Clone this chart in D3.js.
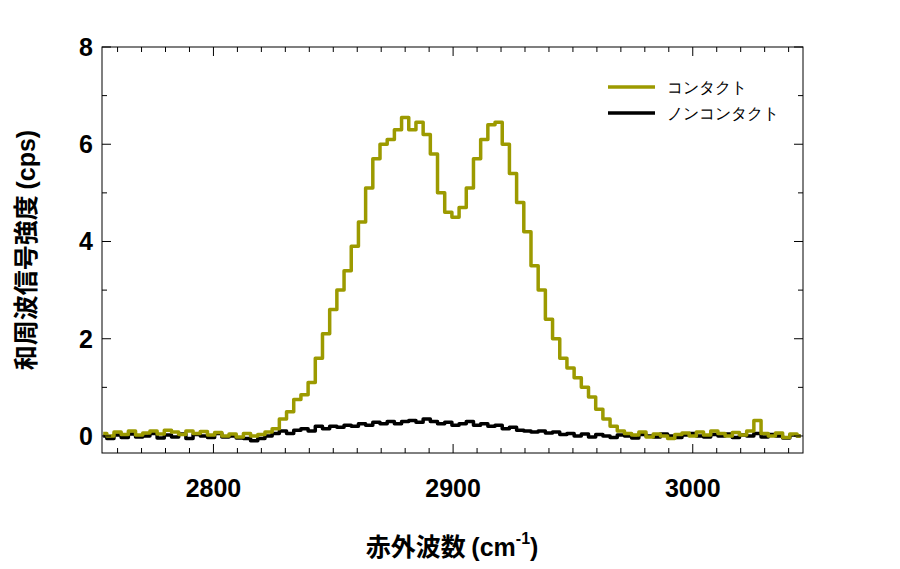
<!DOCTYPE html>
<html>
<head>
<meta charset="utf-8">
<script src="https://cdn.jsdelivr.net/npm/d3@7"></script>
<style>
  body { margin: 0; background: #fff; }
  text { font-family: "Liberation Sans", Arial, sans-serif; }
</style>
</head>
<body>
<svg id="chart" width="900" height="569"></svg>
<script>
// Wavenumber grid: 2754 .. 3045 in 3 cm-1 steps
const xStart = 2754
const xStep = 3

const contact = [
  0.05, 0.0, 0.08, 0.03, 0.1, 0.02, 0.06, 0.1, 0.04, 0.12,
  0.08, 0.03, 0.1, 0.05, 0.09, 0.02, 0.07, 0.0, 0.04, -0.02,
  0.05, 0.0, 0.03, 0.08, 0.15, 0.35, 0.5, 0.75, 0.85, 1.1,
  1.6, 2.1, 2.6, 3.0, 3.4, 3.9, 4.4, 5.1, 5.7, 6.0,
  6.1, 6.3, 6.55, 6.3, 6.45, 6.2, 5.8, 5.0, 4.6, 4.5,
  4.7, 5.1, 5.7, 6.1, 6.4, 6.45, 6.0, 5.4, 4.8, 4.2,
  3.5, 3.0, 2.4, 2.0, 1.6, 1.4, 1.2, 1.0, 0.8, 0.55,
  0.35, 0.2, 0.1, 0.05, 0.02, 0.08, -0.02, 0.04, 0.0, -0.05,
  0.03, 0.06, 0.0, 0.08, 0.02, 0.1, 0.05, 0.0, 0.07, 0.02,
  0.1, 0.32, 0.05, 0.0, 0.06, -0.03, 0.04, 0.0
]

const nonContact = [
  0.0, -0.05, 0.02, -0.03, 0.04, -0.02, 0.0, 0.05, -0.04, 0.02,
  -0.02, 0.04, -0.05, 0.03, 0.0, -0.03, 0.05, -0.02, 0.0, -0.04,
  -0.05, -0.1, -0.05, 0.0, 0.05, 0.1, 0.05, 0.12, 0.15, 0.1,
  0.2, 0.15, 0.2, 0.18, 0.22, 0.2, 0.25, 0.22, 0.28, 0.25,
  0.3, 0.25, 0.3, 0.32, 0.28, 0.35, 0.3, 0.25, 0.28, 0.22,
  0.25, 0.3, 0.22, 0.25, 0.2, 0.22, 0.15, 0.18, 0.12, 0.1,
  0.08, 0.1, 0.06, 0.08, 0.03, 0.05, 0.0, 0.04, -0.02, 0.03,
  0.0, -0.03, 0.02, 0.0, -0.04, 0.03, 0.0, -0.02, 0.04, 0.0,
  -0.03, 0.02, 0.05, 0.0, -0.02, 0.03, 0.0, 0.04, -0.03, 0.02,
  0.0, 0.05, -0.02, 0.03, 0.0, -0.04, 0.02, 0.0
]

const series = [
  {name: "コンタクト", values: contact, color: "#9c9a00"},
  {name: "ノンコンタクト", values: nonContact, color: "#000000"}
]

const xTicks = [2800, 2900, 3000]
const yTicks = [0, 2, 4, 6, 8]

const svg = d3.select("#chart")
const m = {left: 102, right: 803, top: 47, bottom: 453}

const x = d3.scaleLinear().domain([2753.5, 3046]).range([m.left, m.right])
const y = d3.scaleLinear().domain([-0.35, 8]).range([m.bottom, m.top])

const toPoints = vals => vals.map((v, i) => [xStart + i * xStep, v])

// Lines
const line = d3.line().x(d => x(d[0])).y(d => y(d[1])).curve(d3.curveStep)
series.slice().reverse().forEach(s => {
    svg.append("path")
       .attr("d", line(toPoints(s.values)))
       .attr("fill", "none")
       .attr("stroke", s.color)
       .attr("stroke-width", 3.5)
       .attr("stroke-linejoin", "round")
})

// Frame
svg.append("rect")
   .attr("x", m.left).attr("y", m.top)
   .attr("width", m.right - m.left).attr("height", m.bottom - m.top)
   .attr("fill", "none").attr("stroke", "#000").attr("stroke-width", 1)

// Axes with inward ticks, mirrored
const xMinor = d3.range(2760, 3046, 10)
const yMinor = d3.range(1, 8, 2)
const tickG = svg.append("g").attr("stroke", "#000").attr("stroke-width", 1)
xMinor.forEach(v => {
    const len = v % 100 === 0 ? 9 : 5
    tickG.append("line").attr("x1", x(v)).attr("x2", x(v)).attr("y1", m.bottom).attr("y2", m.bottom - len)
    tickG.append("line").attr("x1", x(v)).attr("x2", x(v)).attr("y1", m.top).attr("y2", m.top + len)
})
yTicks.concat(yMinor).forEach(v => {
    const len = v % 2 === 0 ? 9 : 5
    tickG.append("line").attr("y1", y(v)).attr("y2", y(v)).attr("x1", m.left).attr("x2", m.left + len)
    tickG.append("line").attr("y1", y(v)).attr("y2", y(v)).attr("x1", m.right).attr("x2", m.right - len)
})

svg.selectAll(".xl").data(xTicks).enter().append("text")
   .attr("x", d => x(d)).attr("y", 497)
   .attr("text-anchor", "middle").attr("font-size", 25).attr("font-weight", "bold")
   .text(d => d)
svg.selectAll(".yl").data(yTicks).enter().append("text")
   .attr("x", 93).attr("y", d => y(d) + 9)
   .attr("text-anchor", "end").attr("font-size", 25).attr("font-weight", "bold")
   .text(d => d)

// Axis titles
const xt = svg.append("text").attr("x", 452).attr("y", 556)
   .attr("text-anchor", "middle").attr("font-size", 25).attr("font-weight", "bold")
xt.append("tspan").attr("font-family", "Noto Sans CJK JP").text("赤外波数 ")
xt.append("tspan").text("(cm")
xt.append("tspan").attr("font-size", 16).attr("dy", -12).text("-1")
xt.append("tspan").attr("dy", 12).text(")")

const yt = svg.append("text").attr("transform", "translate(35,250) rotate(-90)")
   .attr("text-anchor", "middle").attr("font-size", 25).attr("font-weight", "bold")
yt.append("tspan").attr("font-family", "Noto Sans CJK JP").text("和周波信号強度 ")
yt.append("tspan").text("(cps)")

// Legend
series.forEach((s, i) => {
    const ly = 87 + i * 26
    svg.append("line").attr("x1", 608).attr("x2", 655).attr("y1", ly).attr("y2", ly)
       .attr("stroke", s.color).attr("stroke-width", 3.5)
    svg.append("text").attr("x", 667).attr("y", ly + 6)
       .attr("font-family", "Noto Sans CJK JP").attr("font-size", 16)
       .text(s.name)
})
</script>
</body>
</html>
